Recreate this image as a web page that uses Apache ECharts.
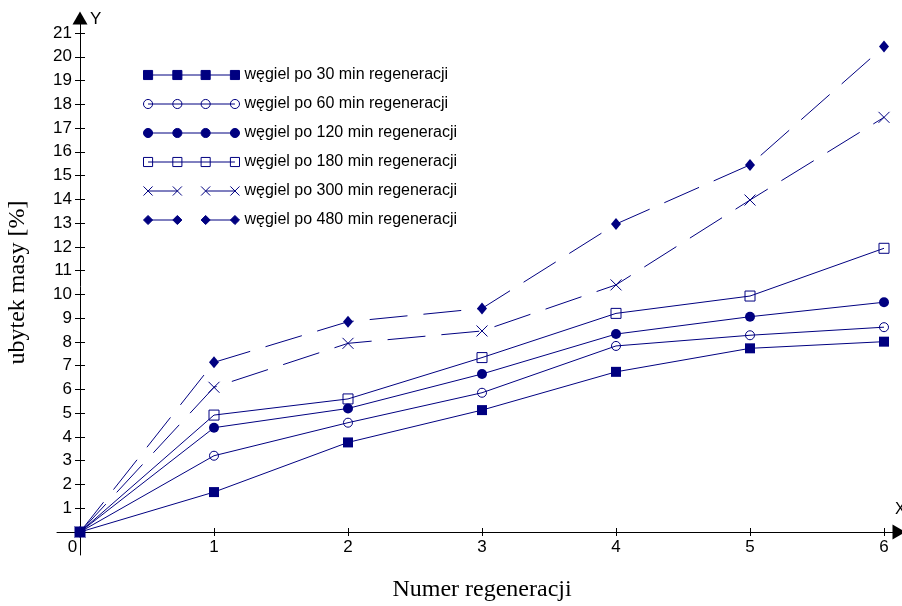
<!DOCTYPE html>
<html>
<head>
<meta charset="utf-8">
<script src="https://cdn.jsdelivr.net/npm/echarts@6/dist/echarts.min.js"></script>
<style>
  html, body { margin: 0; padding: 0; background: #fff; }
  #chart { width: 902px; height: 606px; }
</style>
</head>
<body>
<div id="chart"></div>
<script>
// dane
var regeneracje = [0, 1, 2, 3, 4, 5, 6];
var wegiel30  = [0, 1.68, 3.77, 5.13, 6.74, 7.73, 8.01];
var wegiel60  = [0, 3.21, 4.60, 5.86, 7.83, 8.28, 8.62];
var wegiel120 = [0, 4.39, 5.20, 6.65, 8.33, 9.06, 9.67];
var wegiel180 = [0, 4.92, 5.60, 7.34, 9.20, 9.93, 11.94];
var wegiel300 = [0, 6.09, 7.94, 8.46, 10.40, 13.97, 17.45];
var wegiel480 = [0, 7.14, 8.85, 9.41, 12.96, 15.45, 20.43];
var nazwy = [
  'węgiel po 30 min regeneracji',
  'węgiel po 60 min regeneracji',
  'węgiel po 120 min regeneracji',
  'węgiel po 180 min regeneracji',
  'węgiel po 300 min regeneracji',
  'węgiel po 480 min regeneracji'
];

var navy = '#000080';
var clear = 'rgba(0,0,0,0)';
var sans = 'Liberation Sans, Arial, sans-serif';
var serif = 'Liberation Serif, Times New Roman, serif';

// legend icons: line + 4 markers
var centers = [5, 34, 62, 91];
function sq(c) { return 'M' + (c - 4.5) + ',0.5h9v9h-9z'; }
function circ(c) { return 'M' + (c - 4.5) + ',5a4.5,4.5 0 1,0 9,0a4.5,4.5 0 1,0 -9,0z'; }
function cross(c) { return 'M' + (c - 4.5) + ',0.5l9,9m0,-9l-9,9'; }
function dia(c) { return 'M' + (c - 4.5) + ',5l4.5,-4.5l4.5,4.5l-4.5,4.5z'; }
function icon(fn, dashed) {
  var p = centers.map(fn).join('');
  p += dashed ? 'M5,5H34M62,5H91' : 'M5,5H91';
  return 'path://' + p;
}

var styles = [
  { data: wegiel30,  symbol: 'rect', size: 10, fill: navy, dashed: false, icon: icon(sq, false) },
  { data: wegiel60,  symbol: 'circle', size: 9, fill: clear, dashed: false, icon: icon(circ, false) },
  { data: wegiel120, symbol: 'circle', size: 10, fill: navy, dashed: false, icon: icon(circ, false) },
  { data: wegiel180, symbol: 'rect', size: 10, fill: clear, dashed: false, icon: icon(sq, false) },
  { data: wegiel300, symbol: 'path://M0,0L10,10M10,0L0,10', size: 11, fill: clear, dashed: true, icon: icon(cross, true) },
  { data: wegiel480, symbol: 'diamond', size: [10, 12], fill: navy, dashed: true, icon: icon(dia, true) }
];

var series = styles.map(function (s, i) {
  return {
    name: nazwy[i],
    type: 'line',
    xAxisIndex: 0,
    yAxisIndex: 0,
    z: i === 0 ? 4 : 2,
    data: regeneracje.map(function (x, k) { return [x, s.data[k]]; }),
    symbol: s.symbol,
    symbolSize: s.size,
    itemStyle: { color: s.fill, borderColor: navy, borderWidth: s.fill === navy ? 0 : 1 },
    lineStyle: { color: navy, width: 1, type: s.dashed ? [38, 16] : 'solid' },
    emphasis: { disabled: true }
  };
});

var legendData = styles.map(function (s, i) {
  return {
    name: nazwy[i],
    icon: s.icon,
    itemStyle: { color: s.fill, borderColor: navy, borderWidth: 1 }
  };
});

var tickLabel = { fontFamily: sans, fontSize: 17, color: '#000' };

var myChart = echarts.init(document.getElementById('chart'), null, { renderer: 'canvas' });

var option = {
  animation: false,
  backgroundColor: '#fff',
  legend: {
    orient: 'vertical',
    left: 138,
    top: 62,
    itemWidth: 96,
    itemHeight: 10,
    itemGap: 13,
    selectedMode: false,
    textStyle: { fontFamily: sans, fontSize: 16, color: '#000', lineHeight: 16 },
    data: legendData
  },
  grid: [
    { left: 80, right: 18, top: 33, bottom: 74, containLabel: false, outerBoundsMode: 'none' },
    { left: 80, right: 18, top: 18, bottom: 51, containLabel: false, outerBoundsMode: 'none' },
    { left: 57, right: 3, top: 33, bottom: 74, containLabel: false, outerBoundsMode: 'none' }
  ],
  xAxis: [
    {
      gridIndex: 0, type: 'value', position: 'bottom', min: 0, max: 6, interval: 1,
      axisLine: { show: false, onZero: false },
      axisTick: { show: true, length: 4, lineStyle: { color: '#000' } },
      axisLabel: {
        margin: 7, fontFamily: sans, fontSize: 17, color: '#000',
        formatter: function (v) { return v === 0 ? '{z|0}' : v; },
        rich: { z: { fontFamily: sans, fontSize: 17, color: '#000', padding: [0, 15, 0, 0] } }
      },
      splitLine: { show: false },
      name: 'Numer regeneracji',
      nameLocation: 'middle',
      nameGap: 46,
      nameMoveOverlap: false,
      nameTextStyle: { fontFamily: serif, fontSize: 24, color: '#000' }
    },
    {
      gridIndex: 0, type: 'value', position: 'bottom', min: 0, max: 6, interval: 1,
      axisLine: { show: false, onZero: false },
      axisTick: { show: true, inside: true, length: 4, lineStyle: { color: '#000' } },
      axisLabel: { show: false },
      splitLine: { show: false }
    },
    { gridIndex: 1, type: 'value', min: 0, max: 1, show: false },
    {
      gridIndex: 2, type: 'value', position: 'bottom', min: 0, max: 1,
      axisLine: {
        show: true, onZero: false, symbol: ['none', 'triangle'], symbolSize: [15, 13],
        lineStyle: { color: '#000', width: 1 }
      },
      axisTick: { show: false },
      axisLabel: { show: false },
      splitLine: { show: false },
      name: 'X',
      nameLocation: 'end',
      nameGap: -4,
      nameTextStyle: { fontFamily: sans, fontSize: 16, color: '#000', align: 'left', verticalAlign: 'bottom', padding: [0, 0, 14, 0] }
    }
  ],
  yAxis: [
    {
      gridIndex: 0, type: 'value', position: 'left', min: 0, max: 21, interval: 1,
      axisLine: { show: false, onZero: false },
      axisTick: { show: true, length: 5, lineStyle: { color: '#000' } },
      axisLabel: Object.assign({ margin: 8, formatter: function (v) { return v === 0 ? '' : v; } }, tickLabel),
      splitLine: { show: false },
      name: 'ubytek masy [%]',
      nameLocation: 'middle',
      nameGap: 50,
      nameMoveOverlap: false,
      nameTextStyle: { fontFamily: serif, fontSize: 24, color: '#000' }
    },
    {
      gridIndex: 0, type: 'value', position: 'left', min: 0, max: 21, interval: 1,
      axisLine: { show: false, onZero: false },
      axisTick: { show: true, inside: true, length: 5, lineStyle: { color: '#000' } },
      axisLabel: { show: false },
      splitLine: { show: false }
    },
    {
      gridIndex: 1, type: 'value', position: 'left', min: 0, max: 1,
      axisLine: {
        show: true, onZero: false, symbol: ['none', 'triangle'], symbolSize: [15, 13],
        lineStyle: { color: '#000', width: 1 }
      },
      axisTick: { show: false },
      axisLabel: { show: false },
      splitLine: { show: false },
      name: 'Y',
      nameLocation: 'end',
      nameGap: -1,
      nameTextStyle: { fontFamily: sans, fontSize: 17, color: '#000', align: 'left', verticalAlign: 'middle', padding: [0, 0, 0, 10] }
    },
    { gridIndex: 2, type: 'value', min: 0, max: 1, show: false }
  ],
  series: series
};

myChart.setOption(option);
</script>
</body>
</html>
